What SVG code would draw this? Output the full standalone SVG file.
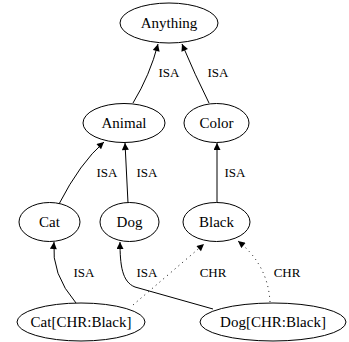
<svg xmlns="http://www.w3.org/2000/svg" width="349" height="342" viewBox="0 0 349 342">
<style>
.node ellipse{fill:#fff;stroke:#000;stroke-width:1}
.node text{font-size:15px;text-anchor:middle;fill:#000}
.edge path{fill:none;stroke:#000;stroke-width:1}
.edge path.dot{stroke-dasharray:1,4}
.lbl{font-size:13px;text-anchor:middle;fill:#000}
</style>
<defs>
<marker id="arr" viewBox="0 0 10 10" refX="10" refY="5" markerWidth="9" markerHeight="7" markerUnits="userSpaceOnUse" orient="auto">
<path d="M0,0 L10,5 L0,10 z" fill="#000"/>
</marker>
</defs>
<rect width="349" height="342" fill="#fff"/>
<g font-family="'Liberation Serif', 'DejaVu Serif', 'Times New Roman', serif">
<g id="connectors">
<g class="edge"><path d="M133,103 Q150,75 158,44" marker-end="url(#arr)"/><text class="lbl" x="169" y="77">ISA</text></g>
<g class="edge"><path d="M209,103 Q195,75 182,44" marker-end="url(#arr)"/><text class="lbl" x="218" y="77">ISA</text></g>
<g class="edge"><path d="M59,204 Q80,163 104,142" marker-end="url(#arr)"/><text class="lbl" x="107" y="177">ISA</text></g>
<g class="edge"><path d="M128,203 L125,143" marker-end="url(#arr)"/><text class="lbl" x="147" y="177">ISA</text></g>
<g class="edge"><path d="M217,203 L217,143" marker-end="url(#arr)"/><text class="lbl" x="235" y="177">ISA</text></g>
<g class="edge"><path d="M76,303 Q51,274 54,242" marker-end="url(#arr)"/><text class="lbl" x="84" y="277">ISA</text></g>
<g class="edge"><path d="M213,309 L135,287 C122,282 120,265 120,242" marker-end="url(#arr)"/><text class="lbl" x="147" y="277">ISA</text></g>
<g class="edge"><path class="dot" d="M133,305 L204,244" marker-end="url(#arr)"/><text class="lbl" x="213" y="277">CHR</text></g>
<g class="edge"><path class="dot" d="M270,302 Q268,265 238,241" marker-end="url(#arr)"/><text class="lbl" x="287" y="277">CHR</text></g>
</g>
<g id="Anything" class="node"><ellipse cx="169" cy="23" rx="49" ry="20"/><text x="169" y="28">Anything</text></g>
<g id="Animal" class="node"><ellipse cx="124" cy="123" rx="41" ry="19.5"/><text x="124" y="128">Animal</text></g>
<g id="Color" class="node"><ellipse cx="216.5" cy="123" rx="32.5" ry="19.5"/><text x="216.5" y="128">Color</text></g>
<g id="Cat" class="node"><ellipse cx="49.5" cy="222" rx="30.5" ry="19.5"/><text x="49.5" y="227">Cat</text></g>
<g id="Dog" class="node"><ellipse cx="129.5" cy="222" rx="29.5" ry="19.5"/><text x="129.5" y="227">Dog</text></g>
<g id="Black" class="node"><ellipse cx="216.5" cy="222" rx="33.5" ry="19.5"/><text x="216.5" y="227">Black</text></g>
<g id="CatCHRBlack" class="node"><ellipse cx="81" cy="322" rx="64" ry="19"/><text x="81" y="327">Cat[CHR:Black]</text></g>
<g id="DogCHRBlack" class="node"><ellipse cx="273" cy="322" rx="73" ry="19"/><text x="273" y="327">Dog[CHR:Black]</text></g>
</g>
</svg>
